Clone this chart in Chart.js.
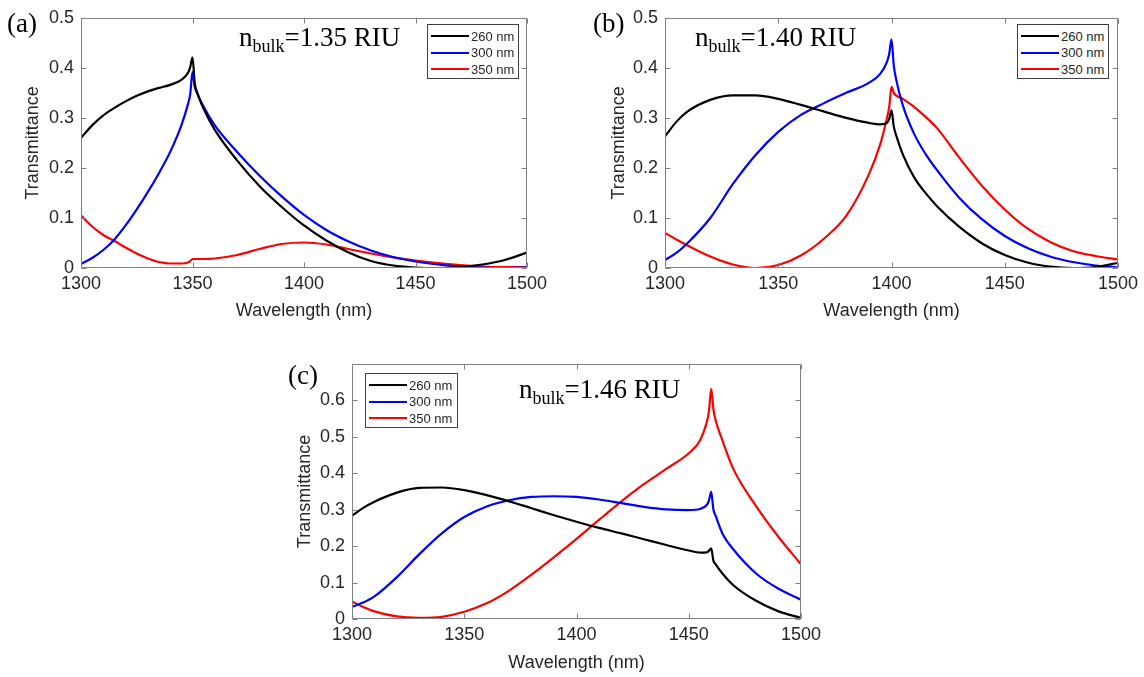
<!DOCTYPE html>
<html>
<head>
<meta charset="utf-8">
<title>Transmittance spectra</title>
<script src="https://cdn.jsdelivr.net/npm/chart.js@4.4.1/dist/chart.umd.min.js"></script>
<style>
  body { margin: 0; background: #fff; }
  #page { position: relative; width: 1144px; height: 677px; overflow: hidden; }
  #page canvas { position: absolute; }
  .serif { position: absolute; font-family: "Liberation Serif", "Times New Roman", serif; font-size: 27px; line-height: 1; color: #000; white-space: nowrap; }
  .serif .sub { font-size: 18px; position: relative; top: 6px; }
  .legend { position: absolute; box-sizing: border-box; border: 1px solid #404040; background: #fff;
            font-family: "Liberation Sans", Arial, sans-serif; font-size: 13px; color: #262626; }
  .legend .row { position: absolute; left: 3px; height: 16px; display: flex; align-items: center; white-space: nowrap; }
  .legend .swatch { display: inline-block; width: 38px; height: 2px; margin-right: 2px; }
</style>
</head>
<body>
<div id="page">
  <canvas id="chartA" width="560" height="335" style="left:0px;top:0px"></canvas>
  <canvas id="chartB" width="564" height="335" style="left:580px;top:0px"></canvas>
  <canvas id="chartC" width="560" height="332" style="left:280px;top:345px"></canvas>

  <div class="serif" style="left:7px;top:10px">(a)</div>
  <div class="serif" style="left:593px;top:10px">(b)</div>
  <div class="serif" style="left:288px;top:362px">(c)</div>

  <div class="serif" style="left:239px;top:24px">n<span class="sub">bulk</span>=1.35 RIU</div>
  <div class="serif" style="left:695px;top:24px">n<span class="sub">bulk</span>=1.40 RIU</div>
  <div class="serif" style="left:519px;top:376px">n<span class="sub">bulk</span>=1.46 RIU</div>

  <div class="legend" id="legendA" style="left:427px;top:24px;width:92px;height:55px"></div>
  <div class="legend" id="legendB" style="left:1017px;top:24px;width:92px;height:55px"></div>
  <div class="legend" id="legendC" style="left:365px;top:373px;width:93px;height:55px"></div>
</div>

<script>
// Series names and colours (shared by all three panels)
const seriesLabels = ['260 nm', '300 nm', '350 nm'];
const seriesColors = ['#000000', '#0000ff', '#ff0000'];

// x-axis ticks (nm)
const xTicks = [1300, 1350, 1400, 1450, 1500];

// (a) n_bulk = 1.35 RIU
const wavelengthA = [1300, 1305, 1310, 1315, 1320, 1325, 1330, 1335, 1340, 1345, 1348, 1349, 1350, 1351, 1352, 1355,
                     1360, 1370, 1380, 1390, 1400, 1410, 1420, 1430, 1440, 1450, 1460, 1470, 1480, 1490, 1500];
const t260A = [0.260, 0.285, 0.305, 0.320, 0.333, 0.344, 0.353, 0.360, 0.366, 0.376, 0.390, 0.402, 0.421, 0.370, 0.352, 0.318,
               0.276, 0.215, 0.164, 0.122, 0.085, 0.055, 0.031, 0.014, 0.005, 0.001, 0.000, 0.002, 0.007, 0.016, 0.031];
const t300A = [0.008, 0.020, 0.036, 0.057, 0.085, 0.117, 0.152, 0.190, 0.232, 0.285, 0.328, 0.348, 0.392, 0.362, 0.350, 0.322,
               0.285, 0.232, 0.185, 0.143, 0.106, 0.076, 0.053, 0.035, 0.022, 0.013, 0.007, 0.003, 0.001, 0.000, 0.001];
const t350A = [0.105, 0.083, 0.066, 0.054, 0.041, 0.029, 0.019, 0.012, 0.009, 0.009, 0.011, 0.014, 0.018, 0.018, 0.018, 0.018,
               0.019, 0.026, 0.038, 0.048, 0.051, 0.047, 0.038, 0.029, 0.021, 0.015, 0.010, 0.006, 0.003, 0.002, 0.002];

// (b) n_bulk = 1.40 RIU
const wavelengthB = [1300, 1305, 1310, 1320, 1330, 1340, 1350, 1360, 1370, 1380, 1390, 1395, 1398, 1399, 1400, 1401, 1402,
                     1405, 1410, 1415, 1420, 1430, 1440, 1450, 1460, 1470, 1480, 1490, 1500];
const t260B = [0.263, 0.292, 0.313, 0.336, 0.345, 0.345, 0.338, 0.326, 0.313, 0.300, 0.290, 0.287, 0.290, 0.298, 0.315, 0.283, 0.266,
               0.227, 0.181, 0.150, 0.124, 0.082, 0.049, 0.026, 0.011, 0.003, 0.000, 0.002, 0.010];
const t300B = [0.016, 0.030, 0.050, 0.100, 0.168, 0.226, 0.272, 0.306, 0.329, 0.350, 0.370, 0.388, 0.412, 0.428, 0.457, 0.405, 0.378,
               0.325, 0.268, 0.228, 0.196, 0.140, 0.097, 0.064, 0.040, 0.023, 0.012, 0.005, 0.001];
const t350B = [0.070, 0.057, 0.045, 0.023, 0.007, 0.000, 0.006, 0.025, 0.058, 0.104, 0.187, 0.247, 0.300, 0.322, 0.362, 0.350, 0.345,
               0.338, 0.322, 0.302, 0.280, 0.220, 0.164, 0.117, 0.079, 0.052, 0.034, 0.024, 0.017];

// (c) n_bulk = 1.46 RIU
const wavelengthC = [1300, 1305, 1310, 1320, 1330, 1340, 1350, 1360, 1370, 1380, 1390, 1400, 1410, 1420, 1430, 1440, 1450,
                     1455, 1458, 1459, 1460, 1461, 1462, 1465, 1470, 1480, 1490, 1500];
const t260C = [0.283, 0.305, 0.322, 0.347, 0.360, 0.361, 0.354, 0.340, 0.323, 0.304, 0.285, 0.267, 0.250, 0.235, 0.219, 0.203, 0.188,
               0.182, 0.183, 0.187, 0.194, 0.160, 0.150, 0.125, 0.092, 0.050, 0.021, 0.003];
const t300C = [0.033, 0.045, 0.062, 0.115, 0.178, 0.235, 0.280, 0.309, 0.326, 0.335, 0.337, 0.335, 0.328, 0.318, 0.308, 0.301, 0.299,
               0.302, 0.313, 0.325, 0.349, 0.300, 0.283, 0.235, 0.190, 0.125, 0.083, 0.053];
const t350C = [0.048, 0.033, 0.021, 0.007, 0.003, 0.006, 0.020, 0.043, 0.078, 0.122, 0.170, 0.220, 0.272, 0.323, 0.370, 0.412, 0.455,
               0.490, 0.540, 0.570, 0.632, 0.575, 0.545, 0.490, 0.410, 0.310, 0.225, 0.150];

const sansFont = '"Liberation Sans", Arial, sans-serif';
const textColor = '#262626';

// Box round the plot area with inward tick marks on all four sides
const axesBox = {
    id: 'axesBox',
    afterDatasetsDraw(chart) {
        const { ctx, chartArea: a, scales: { x, y } } = chart;
        const len = 5;
        ctx.save();
        ctx.strokeStyle = '#808080';
        ctx.lineWidth = 1;
        ctx.beginPath();
        const l = Math.round(a.left) + 0.5, r = Math.round(a.right) - 0.5;
        const t = Math.round(a.top) + 0.5, b = Math.round(a.bottom) - 0.5;
        ctx.rect(l, t, r - l, b - t);
        x.ticks.forEach(tick => {
            const px = Math.round(x.getPixelForValue(tick.value)) + 0.5;
            ctx.moveTo(px, b); ctx.lineTo(px, b - len);
            ctx.moveTo(px, t); ctx.lineTo(px, t + len);
        });
        y.ticks.forEach(tick => {
            const py = Math.round(y.getPixelForValue(tick.value)) + 0.5;
            ctx.moveTo(l, py); ctx.lineTo(l + len, py);
            ctx.moveTo(r, py); ctx.lineTo(r - len, py);
        });
        ctx.stroke();
        ctx.restore();
    }
};

function createPanel(canvasId, p) {
    const ctx = document.getElementById(canvasId).getContext('2d');
    const series = [p.t260, p.t300, p.t350];

    return new Chart(ctx, {
        type: 'line',
        data: {
            datasets: series.map((values, i) => ({
                label: seriesLabels[i],
                data: p.wavelength.map((w, j) => ({ x: w, y: values[j] })),
                borderColor: seriesColors[i],
                borderWidth: 2.2,
                pointRadius: 0,
                cubicInterpolationMode: 'monotone',
                fill: false
            }))
        },
        options: {
            responsive: false,
            animation: false,
            devicePixelRatio: 1,
            layout: { padding: p.padding },
            plugins: {
                legend: { display: false },
                tooltip: { enabled: false }
            },
            scales: {
                x: {
                    type: 'linear',
                    min: xTicks[0],
                    max: xTicks[xTicks.length - 1],
                    afterBuildTicks: scale => { scale.ticks = xTicks.map(v => ({ value: v })); },
                    ticks: {
                        callback: value => String(value),
                        font: { family: sansFont, size: 18 },
                        color: textColor,
                        padding: 5,
                        maxRotation: 0,
                        autoSkip: false
                    },
                    grid: { display: false, drawTicks: false },
                    border: { display: false },
                    title: {
                        display: true,
                        text: 'Wavelength (nm)',
                        font: { family: sansFont, size: 18, lineHeight: 1 },
                        color: textColor,
                        padding: { top: 0, bottom: p.xTitlePad }
                    },
                    afterFit: scale => { scale.height = p.xAxisHeight; }
                },
                y: {
                    min: 0,
                    max: p.yMax,
                    afterBuildTicks: scale => { scale.ticks = p.yTicks.map(v => ({ value: v })); },
                    ticks: {
                        callback: value => (value > p.yLabelMax + 1e-9 ? '' : String(Math.round(value * 10) / 10)),
                        font: { family: sansFont, size: 18 },
                        color: textColor,
                        padding: 7,
                        autoSkip: false
                    },
                    grid: { display: false, drawTicks: false },
                    border: { display: false },
                    title: {
                        display: true,
                        text: 'Transmittance',
                        font: { family: sansFont, size: 18, lineHeight: 1 },
                        color: textColor,
                        padding: { top: p.yTitlePad, bottom: 0 }
                    },
                    afterFit: scale => { scale.width = p.yAxisWidth; }
                }
            }
        },
        plugins: [axesBox]
    });
}

// Legend boxes drawn from the same names/colours as the datasets
function buildLegend(id) {
    const box = document.getElementById(id);
    seriesLabels.forEach((label, i) => {
        const row = document.createElement('div');
        row.className = 'row';
        row.style.top = (3 + i * 16.5) + 'px';
        const swatch = document.createElement('span');
        swatch.className = 'swatch';
        swatch.style.background = seriesColors[i];
        const text = document.createElement('span');
        text.textContent = label;
        row.appendChild(swatch);
        row.appendChild(text);
        box.appendChild(row);
    });
}

const yTicksHalf = [0, 0.1, 0.2, 0.3, 0.4, 0.5];
const yTicksC = [0, 0.1, 0.2, 0.3, 0.4, 0.5, 0.6, 0.7];

createPanel('chartA', {
    wavelength: wavelengthA, t260: t260A, t300: t300A, t350: t350A,
    yMax: 0.5, yTicks: yTicksHalf, yLabelMax: 0.5,
    padding: { left: 0, top: 15, right: 33, bottom: 0 },
    yAxisWidth: 81, xAxisHeight: 67, xTitlePad: 15, yTitlePad: 24
});

createPanel('chartB', {
    wavelength: wavelengthB, t260: t260B, t300: t300B, t350: t350B,
    yMax: 0.5, yTicks: yTicksHalf, yLabelMax: 0.5,
    padding: { left: 0, top: 15, right: 26, bottom: 0 },
    yAxisWidth: 85, xAxisHeight: 67, xTitlePad: 15, yTitlePad: 30
});

createPanel('chartC', {
    wavelength: wavelengthC, t260: t260C, t300: t300C, t350: t350C,
    yMax: 0.7, yTicks: yTicksC, yLabelMax: 0.6,
    padding: { left: 0, top: 19, right: 39, bottom: 0 },
    yAxisWidth: 72, xAxisHeight: 58, xTitlePad: 5, yTitlePad: 16
});

buildLegend('legendA');
buildLegend('legendB');
buildLegend('legendC');
</script>
</body>
</html>
